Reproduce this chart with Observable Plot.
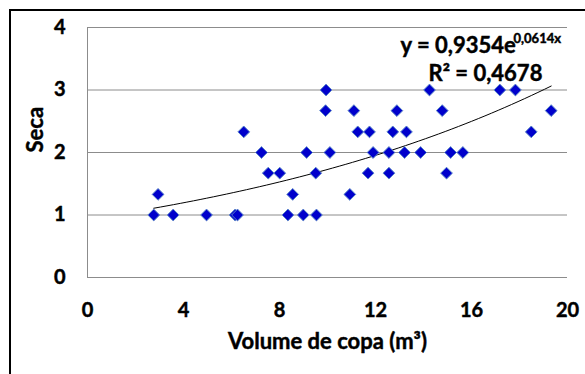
<!DOCTYPE html>
<html>
<head>
<meta charset="utf-8">
<script src="https://cdn.jsdelivr.net/npm/d3@7"></script>
<script src="https://cdn.jsdelivr.net/npm/@observablehq/plot@0.6"></script>
<style>
  html, body { margin: 0; padding: 0; background: #fff; overflow: hidden; }
  #wrap { position: relative; width: 585px; height: 374px; }
  #frame { position: absolute; left: 9px; top: 9px; width: 700px; height: 500px;
           border-left: 2px solid #000; border-top: 2px solid #000; pointer-events: none; }
  #wrap svg text { stroke: #000; stroke-width: 0.45px; }
</style>
</head>
<body>
<div id="wrap"><div id="frame"></div></div>
<script>
// Data
const volume = [2.76, 2.94, 3.57, 4.96, 6.15, 6.25, 6.51, 7.25, 7.53, 8.01, 8.35, 8.55, 8.99, 9.13, 9.51, 9.54,
  9.94, 9.92, 10.1, 10.93, 11.1, 11.26, 11.75, 11.69, 11.9, 12.56, 12.56, 12.72, 12.89, 13.21, 13.29, 13.88,
  14.25, 14.78, 14.96, 15.13, 15.64, 17.18, 17.83, 18.49, 19.32];
const seca = [1, 1.33, 1, 1, 1, 1, 2.33, 2, 1.67, 1.67, 1, 1.33, 1, 2, 1.67, 1,
  3, 2.67, 2, 1.33, 2.67, 2.33, 2.33, 1.67, 2, 2, 1.67, 2.33, 2.67, 2, 2.33, 2,
  3, 2.67, 1.67, 2, 2, 3, 3, 2.33, 2.67];
const xTicks = [0, 4, 8, 12, 16, 20];
const yTicks = [0, 1, 2, 3, 4];
const gridY = [1, 2, 3, 4];
// Trend line coefficients as printed on the chart: y = a·e^(b·x)
const trendA = 0.9354, trendB = 0.0614;
const eqMain = "y = 0,9354e";
const eqExp = "0,0614x";
const r2Text = "R² = 0,4678";
const xLabel = "Volume de copa (m³)";
const yLabel = "Seca";

const points = volume.map((v, i) => ({x: v, y: seca[i]}));
const xmin = d3.min(volume), xmax = d3.max(volume);
const trend = d3.range(0, 61).map(i => {
  const x = xmin + (xmax - xmin) * i / 60;
  return {x, y: trendA * Math.exp(trendB * x)};
});

const font = "Lato, 'Open Sans', sans-serif";
const big = 22;
const chart = Plot.plot({
  width: 585,
  height: 374,
  marginLeft: 87,
  marginRight: 18,
  marginTop: 27,
  marginBottom: 97,
  style: {fontFamily: font, fontSize: "20px", fontWeight: "700", color: "#000", background: "transparent"},
  x: {domain: [0, 20], ticks: xTicks},
  y: {domain: [0, 4], ticks: yTicks},
  marks: [
    Plot.ruleY(gridY, {stroke: "#8c8c8c", strokeWidth: 1}),
    Plot.ruleY([0], {stroke: "#8c8c8c", strokeWidth: 1}),
    Plot.ruleX([0], {stroke: "#8c8c8c", strokeWidth: 1}),
    Plot.axisX({ticks: xTicks, tickSize: 0, tickPadding: 25, tickFormat: "d", label: null, fill: "#000", fontSize: 20, fontWeight: 700}),
    Plot.axisY({ticks: yTicks, tickSize: 0, tickPadding: 22, tickFormat: "d", label: null, fill: "#000", fontSize: 20, fontWeight: 700}),
    Plot.text([xLabel], {frameAnchor: "bottom", dy: 71, fill: "#000", fontSize: big, fontWeight: 700}),
    Plot.text([yLabel], {frameAnchor: "left", rotate: -90, dx: -52, fill: "#000", fontSize: big, fontWeight: 700}),
    Plot.line(trend, {x: "x", y: "y", stroke: "#000", strokeWidth: 1, curve: "linear"}),
    Plot.dot(points, {x: "x", y: "y", symbol: "diamond2", r: 5.3, fill: "#0000cc", stroke: "#5b86c8", strokeWidth: 1}),
    Plot.text([eqMain], {frameAnchor: "top-left", dx: 313, dy: 10, textAnchor: "start", fill: "#000", fontSize: big, fontWeight: 700}),
    Plot.text([eqExp], {frameAnchor: "top-left", dx: 426, dy: 6, textAnchor: "start", fill: "#000", fontSize: 13, fontWeight: 700}),
    Plot.text([r2Text], {frameAnchor: "top-left", dx: 341, dy: 38, textAnchor: "start", fill: "#000", fontSize: big, fontWeight: 700})
  ]
});
document.getElementById("wrap").prepend(chart);
chart.style.position = "absolute";
chart.style.left = "0";
chart.style.top = "0";
</script>
</body>
</html>
